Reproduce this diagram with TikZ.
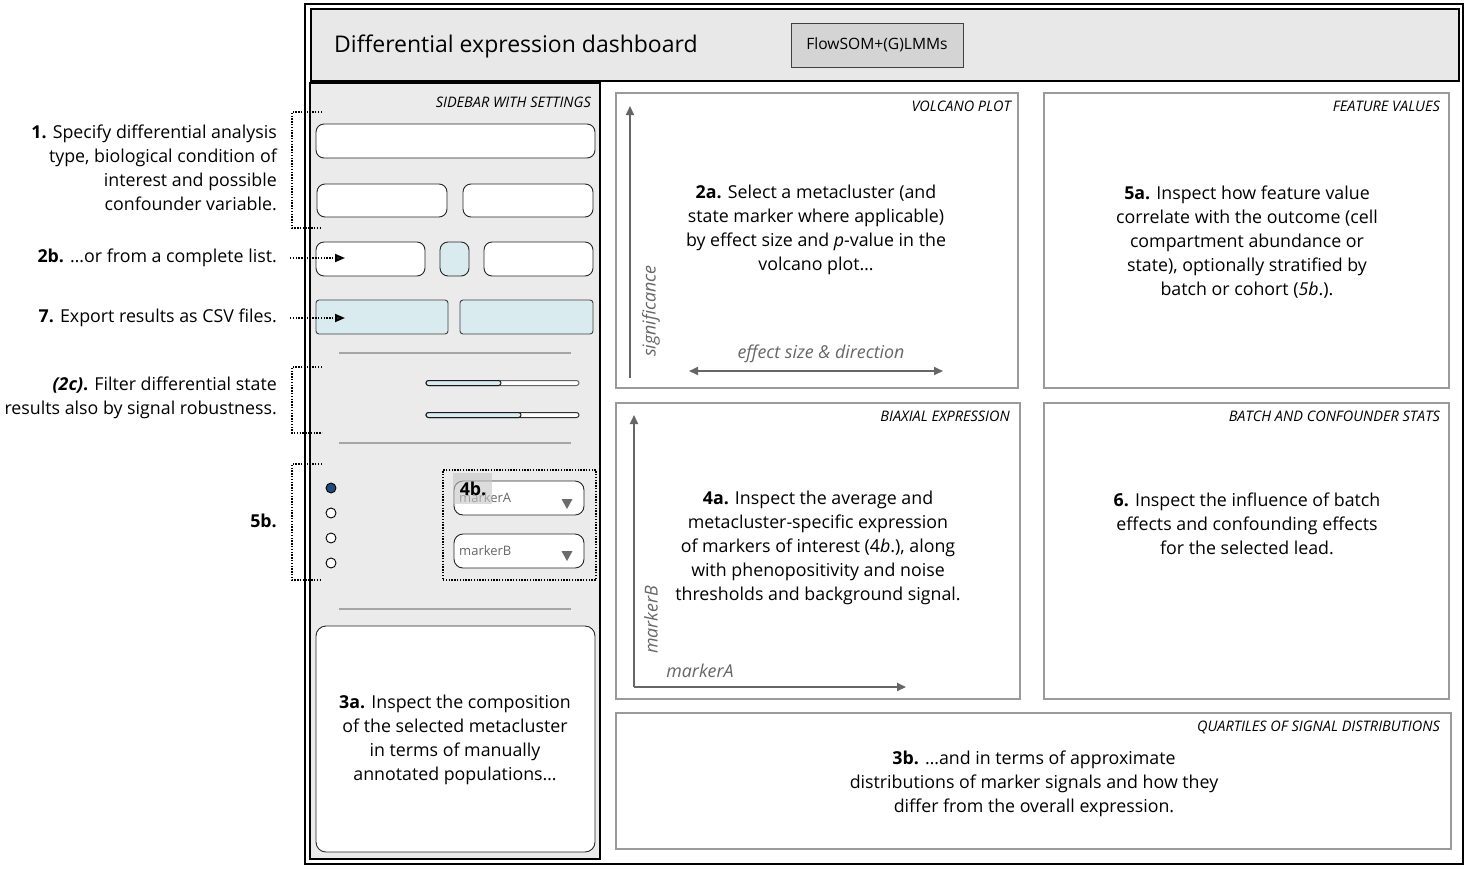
\documentclass[tikz,border=0pt]{standalone}
\usepackage{fontspec}
\setmainfont{Open Sans}
\usetikzlibrary{arrows.meta}
\definecolor{hdrfill}{HTML}{E8E8E8}
\definecolor{sbfill}{HTML}{EBEBEB}
\definecolor{pborder}{HTML}{9A9A9A}
\definecolor{lblue}{HTML}{DAEBEF}
\definecolor{dblue}{HTML}{1F4A7A}
\definecolor{axgray}{HTML}{666666}
\definecolor{btnfill}{HTML}{D4D4D4}
\definecolor{sepgray}{HTML}{A6A6A6}
\tikzset{
  box/.style={anchor=north west, inner sep=0pt, outer sep=0pt},
  panel/.style={box, draw=pborder, line width=2.6pt, fill=white},
  ptitle/.style={anchor=north east, inner sep=0pt, font=\fontsize{14.5}{17}\selectfont\itshape},
  body/.style={align=center, inner sep=0pt, font=\fontsize{17.8}{24}\selectfont},
  lefttxt/.style={align=right, anchor=east, inner sep=0pt, font=\fontsize{17.8}{24}\selectfont},
  ctrl/.style={box, draw=black!85, line width=0.9pt, rounded corners=8pt, fill=white},
  ctrlb/.style={box, draw=black!75, line width=0.9pt, rounded corners=3pt, fill=lblue},
  dotline/.style={draw=black, line width=1.8pt, dash pattern=on 1.4pt off 1.4pt},
  axis/.style={draw=axgray, line width=1.8pt},
  axlab/.style={inner sep=0pt, text=axgray, font=\fontsize{17.8}{20}\selectfont\itshape},
  sep/.style={draw=sepgray, line width=2pt},
  radio/.style={circle, draw=black, line width=0.9pt, fill=white, minimum size=10pt, inner sep=0pt},
  tri/.style={fill=gray!85!black, draw=none},
}
\begin{document}
\begin{tikzpicture}[x=1pt,y=-1pt]
\useasboundingbox (0,0) rectangle (1469,868);
\fill[white] (0,0) rectangle (1469,868);

% outer frame
\node[box, draw=black, line width=2.8pt, minimum width=1158pt, minimum height=860pt] (frame) at (305,4) {};
% header
\node[box, draw=black, line width=2.6pt, fill=hdrfill, minimum width=1148pt, minimum height=72pt] (header) at (311,9) {};
\node[anchor=west, inner sep=0pt, font=\fontsize{23}{27}\selectfont] (title) at (334,46.5) {Differential expression dashboard};
\node[box, draw=black!75, line width=1pt, fill=btnfill, minimum width=172pt, minimum height=44pt] (btn) at (791,23) {};
\node[inner sep=0pt, font=\fontsize{15.6}{18}\selectfont] (btntxt) at (btn.center) {FlowSOM+(G)LMMs};

% sidebar
\node[box, draw=black, line width=2pt, fill=sbfill, minimum width=290pt, minimum height=776pt] (sidebar) at (310,83) {};
\node[ptitle] (sbtitle) at (591,97) {SIDEBAR WITH SETTINGS};
\node[ctrl, minimum width=279pt, minimum height=34pt] (c1) at (316,124) {};
\node[ctrl, minimum width=130pt, minimum height=33pt] (c2a) at (317,184) {};
\node[ctrl, minimum width=130pt, minimum height=33pt] (c2b) at (463,184) {};
\node[ctrl, minimum width=109pt, minimum height=34pt] (c3a) at (316,242) {};
\node[ctrl, fill=lblue, minimum width=29pt, minimum height=34pt] (c3b) at (440,242) {};
\node[ctrl, minimum width=109pt, minimum height=34pt] (c3c) at (484,242) {};
\node[ctrlb, minimum width=132pt, minimum height=34pt] (c4a) at (316,300) {};
\node[ctrlb, minimum width=133pt, minimum height=34pt] (c4b) at (460,300) {};
\coordinate (s1a) at (339,353); \coordinate (s1b) at (571,353);
\draw[sep] (s1a) -- (s1b);
% sliders
\draw[draw=black!60, line width=1pt, fill=white, rounded corners=2.5pt] (426,380.5) rectangle (579,385.5);
\draw[draw=black!90, line width=1pt, fill=lblue, rounded corners=2.5pt] (426,380.5) rectangle (501,385.5);
\draw[draw=black!80, line width=1pt, fill=white, rounded corners=2.5pt] (426,412.5) rectangle (579,417.5);
\draw[draw=black!90, line width=1pt, fill=lblue, rounded corners=2.5pt] (426,412.5) rectangle (521,417.5);
\coordinate (s2a) at (339,443); \coordinate (s2b) at (571,443);
\draw[sep] (s2a) -- (s2b);
% radio buttons
\node[radio, fill=dblue] (r1) at (331,488) {};
\node[radio] (r2) at (331,513) {};
\node[radio] (r3) at (331,538) {};
\node[radio] (r4) at (331,563) {};
% dropdowns
\node[box, dotline, fill=none, minimum width=153pt, minimum height=110pt] (ddbox) at (443,470) {};
\node[ctrl, rounded corners=9pt, minimum width=130pt, minimum height=34pt] (ddA) at (454,481) {};
\node[anchor=west, inner sep=0pt, text=black!60, font=\fontsize{13}{15}\selectfont] (ddAt) at (459,497.5) {markerA};
\fill[tri] (561.5,499) -- (572.5,499) -- (567,509) -- cycle;
\node[ctrl, rounded corners=9pt, minimum width=130pt, minimum height=34pt] (ddB) at (454,534) {};
\node[anchor=west, inner sep=0pt, text=black!60, font=\fontsize{13}{15}\selectfont] (ddBt) at (459,550.5) {markerB};
\fill[tri] (561.5,551) -- (572.5,551) -- (567,561) -- cycle;
\fill[gray!45, fill opacity=0.6] (453,473) rectangle (492,504);
\node[inner sep=0pt, font=\fontsize{17.8}{20}\selectfont\bfseries] (l4b) at (473,489) {4b.};
\coordinate (s3a) at (339,609); \coordinate (s3b) at (571,609);
\draw[sep] (s3a) -- (s3b);
\node[ctrl, rounded corners=10pt, minimum width=279pt, minimum height=226pt] (c3abox) at (316,626) {};
\node[body] (t3a) at (455,740) {\textbf{3a.} Inspect the composition\\of the selected metacluster\\in terms of manually\\annotated populations…};

% panels
\node[panel, minimum width=402pt, minimum height=295pt] (volc) at (616,93) {};
\node[ptitle] (volct) at (1011,101) {VOLCANO PLOT};
\node[panel, minimum width=405pt, minimum height=295pt] (feat) at (1044,93) {};
\node[ptitle] (featt) at (1440,101) {FEATURE VALUES};
\node[panel, minimum width=404pt, minimum height=296pt] (biax) at (616,403) {};
\node[ptitle] (biaxt) at (1010,411) {BIAXIAL EXPRESSION};
\node[panel, minimum width=405pt, minimum height=296pt] (batch) at (1044,403) {};
\node[ptitle] (batcht) at (1440,411) {BATCH AND CONFOUNDER STATS};
\node[panel, minimum width=835pt, minimum height=136pt] (quart) at (616,713) {};
\node[ptitle] (quartt) at (1440,721) {QUARTILES OF SIGNAL DISTRIBUTIONS};

% volcano axes
\coordinate (vy0) at (630,378); \coordinate (vy1) at (630,106);
\draw[axis, -{Triangle[length=9pt, width=8pt]}] (vy0) -- (vy1);
\coordinate (vx0) at (689,371); \coordinate (vx1) at (943,371);
\draw[axis, {Triangle[length=9pt, width=8pt]}-{Triangle[length=9pt, width=8pt]}] (vx0) -- (vx1);
\node[axlab, rotate=90] (sig) at (651,311) {significance};
\node[axlab] (eff) at (821,354) {effect size \& direction};
\node[body] (t2a) at (816,230) {\textbf{2a.} Select a metacluster (and\\state marker where applicable)\\by effect size and \textit{p}-value in the\\volcano plot…};

% biaxial axes
\coordinate (by0) at (634,687); \coordinate (by1) at (634,415);
\coordinate (bx1) at (906,687);
\draw[axis, -{Triangle[length=9pt, width=8pt]}] (by0) -- (by1);
\draw[axis, -{Triangle[length=9pt, width=8pt]}] (by0) -- (bx1);
\node[axlab, rotate=90] (mb) at (651,620) {markerB};
\node[axlab] (ma) at (700,671) {markerA};
\node[body] (t4a) at (818,548) {\textbf{4a.} Inspect the average and\\metacluster-specific expression\\of markers of interest (4\textit{b}.), along\\with phenopositivity and noise\\thresholds and background signal.};

\node[body] (t5a) at (1247,242) {\textbf{5a.} Inspect how feature value\\correlate with the outcome (cell\\compartment abundance or\\state), optionally stratified by\\batch or cohort (\textit{5b}.).};
\node[body] (t6) at (1247,524) {\textbf{6.} Inspect the influence of batch\\effects and confounding effects\\for the selected lead.};
\node[body] (t3b) at (1034,784) {\textbf{3b.} …and in terms of approximate\\distributions of marker signals and how they\\differ from the overall expression.};

% left annotations
\node[lefttxt] (t1) at (277,168) {\textbf{1.} Specify differential analysis\\type, biological condition of\\interest and possible\\confounder variable.};
\coordinate (b1a) at (322,112); \coordinate (b1b) at (292,112);
\coordinate (b1c) at (292,228); \coordinate (b1d) at (322,228);
\draw[dotline] (b1a) -- (b1b) -- (b1c) -- (b1d);

\node[lefttxt] (t2b) at (277,258) {\textbf{2b.} …or from a complete list.};
\coordinate (a2b0) at (290,258); \coordinate (a2b1) at (345,258);
\draw[dotline, -{Triangle[length=10pt, width=8pt, fill=black!85]}] (a2b0) -- (a2b1);

\node[lefttxt] (t7) at (277,318) {\textbf{7.} Export results as CSV files.};
\coordinate (a70) at (290,318); \coordinate (a71) at (345,318);
\draw[dotline, -{Triangle[length=10pt, width=8pt, fill=black!85]}] (a70) -- (a71);

\node[lefttxt] (t2c) at (277,398) {\textbf{\textit{(2c)}.} Filter differential state\\results also by signal robustness.};
\coordinate (b2a) at (322,367); \coordinate (b2b) at (292,367);
\coordinate (b2c) at (292,433); \coordinate (b2d) at (322,433);
\draw[dotline] (b2a) -- (b2b) -- (b2c) -- (b2d);

\node[lefttxt, font=\fontsize{17.8}{24}\selectfont\bfseries] (t5b) at (277,521) {5b.};
\coordinate (b5a) at (322,464); \coordinate (b5b) at (292,464);
\coordinate (b5c) at (292,580); \coordinate (b5d) at (322,580);
\draw[dotline] (b5a) -- (b5b) -- (b5c) -- (b5d);
\end{tikzpicture}
\end{document}
